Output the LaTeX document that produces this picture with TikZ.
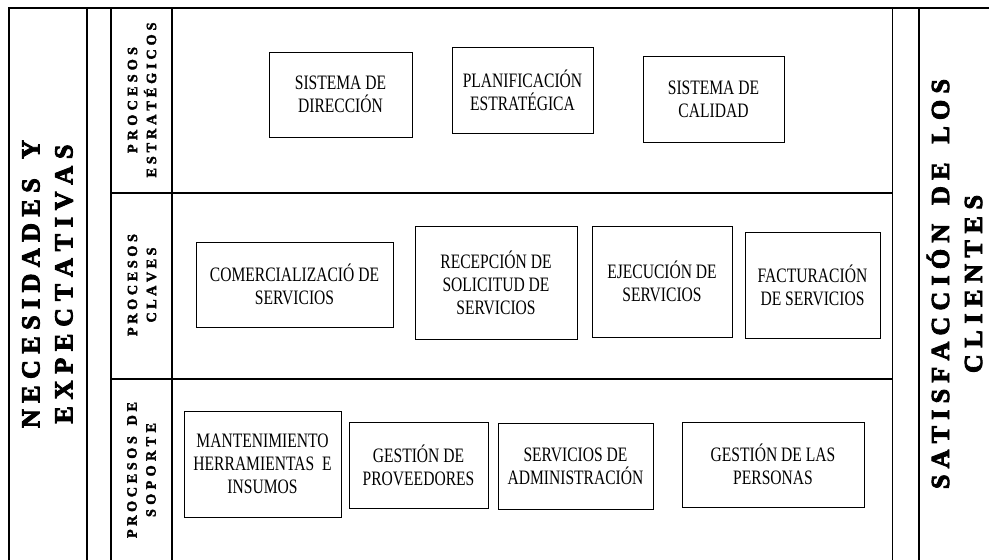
\documentclass[tikz,border=0pt]{standalone}
\usepackage{fontspec}
\setmainfont{Liberation Serif}
\newfontfamily\condfont[FakeStretch=0.76]{Liberation Serif}
\newfontfamily\headfont[UprightFont={* Bold}, FakeBold=3.5]{Liberation Serif}
\newfontfamily\procfont[UprightFont={* Bold}, FakeBold=2.5]{Liberation Serif}
% spread the letters of a word evenly over a given width
\def\spreadaux#1{\ifx#1\relax\else\hfil#1\expandafter\spreadaux\fi}
\def\spreadfirst#1{#1\spreadaux}
\newcommand\spreadline[2]{\makebox[#1][s]{\spreadfirst#2\relax}}
\begin{document}
\begin{tikzpicture}[x=1pt,y=-1pt,
  box/.style={draw, line width=0.9pt, inner sep=0pt, align=center,
    font=\condfont\fontsize{20.5}{23}\selectfont},
  band/.style={rotate=90, align=center, inner sep=0pt,
    font=\headfont\fontsize{26}{33}\selectfont},
  proc/.style={rotate=90, align=center, inner sep=0pt,
    font=\procfont\fontsize{14.2}{19}\selectfont},
  frame/.style={line width=1.5pt}]
\useasboundingbox (0,0) rectangle (989,560);
% structure
\draw[line width=2.2pt] (9,8) -- (989,8);
\draw[frame] (9,7) -- (9,560);
\draw[line width=1.3pt] (87,7) -- (87,560);
\draw[line width=1.3pt] (111,7) -- (111,560);
\draw[frame] (172,7) -- (172,560);
\draw[line width=1pt] (892,7) -- (892,560);
\draw[frame] (919,7) -- (919,560);
\draw[frame] (111,193) -- (892,193);
\draw[frame] (111,379) -- (892,379);
% side bands
\node[band] (nec) at (47.5,284) {\spreadline{288pt}{NECESIDADES~Y}\\\spreadline{279pt}{EXPECTATIVAS}};
\node[band] (sat) at (954.5,284) {\spreadline{410pt}{SATISFACCIÓN~DE~LOS}\\\spreadline{178pt}{CLIENTES}};
% process labels
\node[proc] (pe) at (142,100) {\spreadline{106pt}{PROCESOS}\\\spreadline{155pt}{ESTRATÉGICOS}};
\node[proc] (pc) at (142,285) {\spreadline{102pt}{PROCESOS}\\\spreadline{75pt}{CLAVES}};
\node[proc] (ps) at (141.5,470) {\spreadline{136pt}{PROCESOS~DE}\\\spreadline{94pt}{SOPORTE}};
% strategic
\node[box, minimum width=143, minimum height=85] (dir) at (340.5,94.5) {SISTEMA DE\\DIRECCIÓN};
\node[box, minimum width=141, minimum height=86] (plan) at (522.5,90) {PLANIFICACIÓN\\ESTRATÉGICA};
\node[box, minimum width=141, minimum height=86] (cal) at (713.5,99) {SISTEMA DE\\CALIDAD};
% key
\node[box, minimum width=197, minimum height=85] (com) at (294.5,284.5) {COMERCIALIZACIÓ DE\\SERVICIOS};
\node[box, minimum width=162, minimum height=113] (rec) at (496,282.5) {RECEPCIÓN DE\\SOLICITUD DE\\SERVICIOS};
\node[box, minimum width=140, minimum height=111] (eje) at (662,281.5) {EJECUCIÓN DE\\SERVICIOS};
\node[box, minimum width=135, minimum height=106] (fac) at (812.5,285) {FACTURACIÓN\\DE SERVICIOS};
% support
\node[box, minimum width=157, minimum height=106] (man) at (262.5,464) {MANTENIMIENTO\\HERRAMIENTAS\ \ E\\INSUMOS};
\node[box, minimum width=139, minimum height=86] (prov) at (418.5,465) {GESTIÓN DE\\PROVEEDORES};
\node[box, minimum width=155, minimum height=86] (adm) at (575.5,466) {SERVICIOS DE\\ADMINISTRACIÓN};
\node[box, minimum width=182, minimum height=85] (per) at (773,464.5) {GESTIÓN DE LAS\\PERSONAS};
\end{tikzpicture}
\end{document}
